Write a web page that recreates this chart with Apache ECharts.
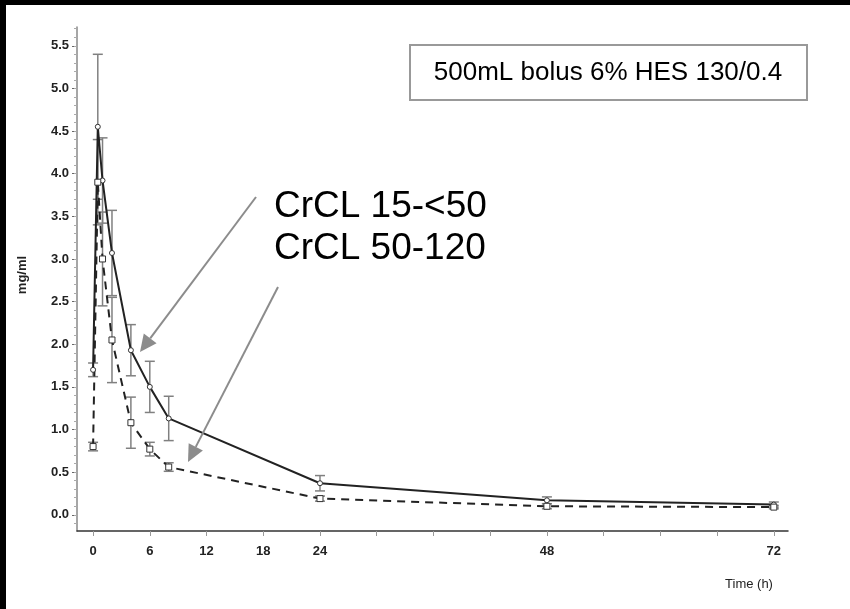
<!DOCTYPE html>
<html><head><meta charset="utf-8">
<script src="https://cdn.jsdelivr.net/npm/echarts@6/dist/echarts.min.js"></script>
<style>html,body{margin:0;padding:0;background:#fff}#c{width:850px;height:609px}</style>
</head><body><div id="c"></div>
<script>
const times = [0, 0.5, 1, 2, 4, 6, 8, 24, 48, 72];
const lowCrclValues = [1.7, 4.55, 3.92, 3.07, 1.93, 1.5, 1.13, 0.37, 0.17, 0.12];
const lowCrclErr    = [0.08, 0.85, 0.5, 0.5, 0.3, 0.3, 0.26, 0.09, 0.04, 0.03];
const highCrclValues = [0.8, 3.9, 3.0, 2.05, 1.08, 0.77, 0.56, 0.19, 0.1, 0.09];
const highCrclErr    = [0.05, 0.5, 0.55, 0.5, 0.3, 0.08, 0.05, 0.03, 0.03, 0.02];
const xTickValues = [0, 6, 12, 18, 24, 30, 36, 42, 48, 54, 60, 66, 72];
const xLabelValues = [0, 6, 12, 18, 24, 48, 72];
const yLabelValues = [0, 0.5, 1, 1.5, 2, 2.5, 3, 3.5, 4, 4.5, 5, 5.5];
const yMinorValues = [];
for (let i = -1; i <= 57; i++) yMinorValues.push(+(i * 0.1).toFixed(1));

const FONT = 'Liberation Sans, Arial, sans-serif';
const chart = echarts.init(document.getElementById('c'), null, {renderer: 'canvas'});

function errData(vals, errs) {
  return times.map((t, i) => [t, vals[i] - errs[i], vals[i] + errs[i]]);
}
function errSeries(name, vals, errs) {
  return {
    type: 'custom', name: name, z: 1,
    data: errData(vals, errs),
    renderItem: function (params, api) {
      const x = api.value(0);
      const lo = api.coord([x, api.value(1)]);
      const hi = api.coord([x, api.value(2)]);
      const hw = 5;
      const style = {stroke: '#808080', lineWidth: 1.5};
      return {type: 'group', children: [
        {type: 'line', shape: {x1: lo[0], y1: lo[1], x2: hi[0], y2: hi[1]}, style: style},
        {type: 'line', shape: {x1: lo[0]-hw, y1: lo[1], x2: lo[0]+hw, y2: lo[1]}, style: style},
        {type: 'line', shape: {x1: hi[0]-hw, y1: hi[1], x2: hi[0]+hw, y2: hi[1]}, style: style}
      ]};
    }
  };
}

function arrow(x1, y1, x2, y2) {
  const ang = Math.atan2(y2 - y1, x2 - x1);
  const L = 17, W = 8;
  const bx = x2 - L * Math.cos(ang), by = y2 - L * Math.sin(ang);
  const px = -Math.sin(ang) * W, py = Math.cos(ang) * W;
  return [
    {type: 'line', shape: {x1: x1, y1: y1, x2: bx, y2: by}, style: {stroke: '#8c8c8c', lineWidth: 2}, z: 100},
    {type: 'polygon', shape: {points: [[x2, y2], [bx + px, by + py], [bx - px, by - py]]}, style: {fill: '#8c8c8c'}, z: 100}
  ];
}

const option = {
  backgroundColor: '#fff',
  animation: false,
  grid: {left: 77, right: 62, top: 27, bottom: 78},
  xAxis: {
    type: 'value', min: -1.7, max: 73.5,
    splitLine: {show: false},
    axisLine: {onZero: false, lineStyle: {color: '#333', width: 1.5}},
    axisTick: {customValues: xTickValues, length: 5, lineStyle: {color: '#999'}},
    axisLabel: {customValues: xLabelValues, color: '#222', fontSize: 13, fontWeight: 'bold', fontFamily: FONT, margin: 14}
  },
  yAxis: [{
    type: 'value', min: -0.19, max: 5.72,
    splitLine: {show: false},
    axisLine: {onZero: false, lineStyle: {color: '#888', width: 1.5}},
    axisTick: {customValues: yLabelValues, length: 5, lineStyle: {color: '#666'}},
    axisLabel: {customValues: yLabelValues, formatter: v => v.toFixed(1), color: '#222', fontSize: 13, fontWeight: 'bold', fontFamily: FONT, margin: 8}
  }, {
    type: 'value', min: -0.19, max: 5.72, position: 'left',
    splitLine: {show: false},
    axisLine: {show: false, onZero: false},
    axisTick: {customValues: yMinorValues, length: 3, lineStyle: {color: '#aaa'}},
    axisLabel: {show: false}
  }],
  series: [
    errSeries('err1', lowCrclValues, lowCrclErr),
    errSeries('err2', highCrclValues, highCrclErr),
    {
      type: 'line', name: 'CrCL 15-<50', z: 3,
      data: times.map((t, i) => [t, lowCrclValues[i]]),
      lineStyle: {color: '#222', width: 2, type: 'solid'},
      symbol: 'circle', symbolSize: 5, showAllSymbol: true,
      itemStyle: {color: '#fff', borderColor: '#333', borderWidth: 1}
    },
    {
      type: 'line', name: 'CrCL 50-120', z: 3,
      data: times.map((t, i) => [t, highCrclValues[i]]),
      lineStyle: {color: '#222', width: 2, type: [8, 6]},
      symbol: 'rect', symbolSize: 6, showAllSymbol: true,
      itemStyle: {color: '#fff', borderColor: '#333', borderWidth: 1}
    }
  ],
  graphic: [
    {type: 'rect', shape: {x: 0, y: 0, width: 850, height: 5}, style: {fill: '#000'}, z: 200},
    {type: 'rect', shape: {x: 0, y: 0, width: 6, height: 609}, style: {fill: '#000'}, z: 200},
    {type: 'rect', shape: {x: 410, y: 45, width: 397, height: 55}, style: {fill: '#fff', stroke: '#999', lineWidth: 2}, z: 100},
    {type: 'text', x: 608, y: 73, style: {text: '500mL bolus 6% HES 130/0.4', fill: '#000', font: '26px ' + FONT, align: 'center', verticalAlign: 'middle'}, z: 101},
    {type: 'text', x: 274, y: 207, style: {text: 'CrCL 15-<50', fill: '#000', font: '37px ' + FONT, align: 'left', verticalAlign: 'middle'}, z: 101},
    {type: 'text', x: 274, y: 249, style: {text: 'CrCL 50-120', fill: '#000', font: '37px ' + FONT, align: 'left', verticalAlign: 'middle'}, z: 101},
    {type: 'text', x: 22, y: 275, rotation: Math.PI / 2, style: {text: 'mg/ml', fill: '#222', font: 'bold 13px ' + FONT, align: 'center', verticalAlign: 'middle'}, z: 101},
    {type: 'text', x: 749, y: 584, style: {text: 'Time (h)', fill: '#222', font: '13px ' + FONT, align: 'center', verticalAlign: 'middle'}, z: 101}
  ].concat(arrow(256, 197, 140, 352)).concat(arrow(278, 287, 188, 462))
};
chart.setOption(option);
</script>
</body></html>
